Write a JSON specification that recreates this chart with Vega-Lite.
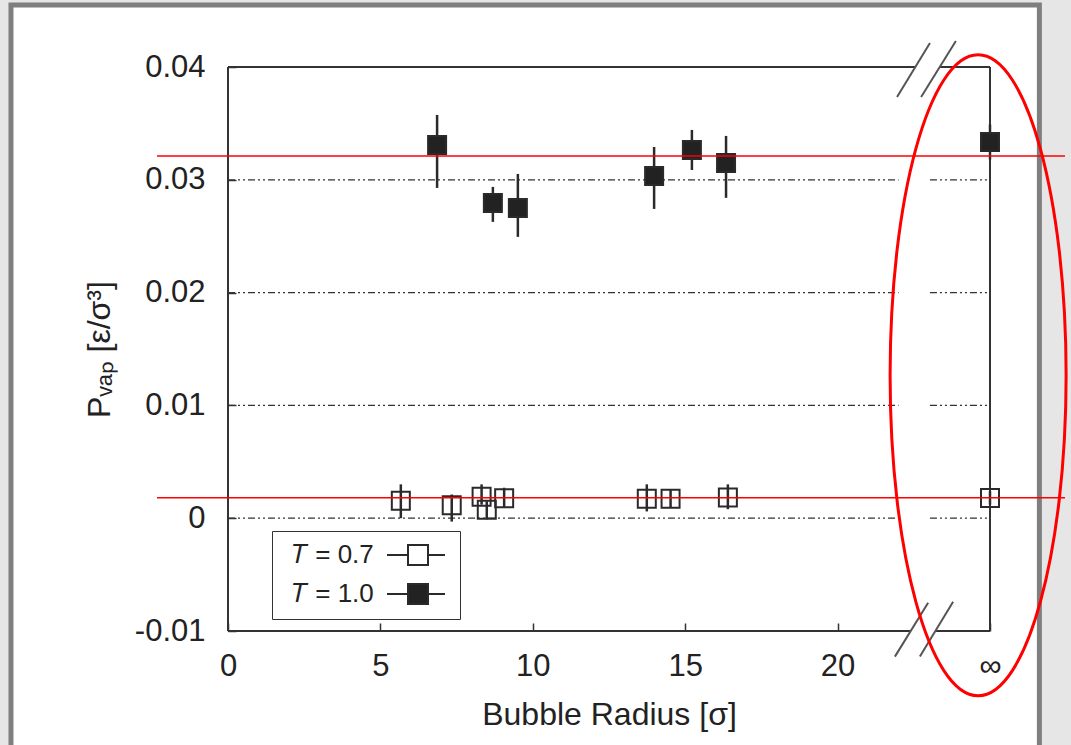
{
  "$schema": "https://vega.github.io/schema/vega-lite/v6.json",
  "width": 762,
  "height": 564,
  "autosize": {"type": "none"},
  "padding": {"left": 228, "top": 67, "right": 81, "bottom": 114},
  "background": "#e6e6e6",
  "config": {
    "view": {"stroke": null},
    "font": "Liberation Sans",
    "axis": {"grid": false, "domain": false, "ticks": true, "tickSize": -8, "tickColor": "#333333", "tickWidth": 1.5, "labelFontSize": 31, "labelColor": "#222222", "labelFlush": false, "labelOverlap": false, "titleFontSize": 32, "titleFontWeight": "normal", "titleColor": "#222222"}
  },
  "data": {"values": [{}]},
  "datasets": {
    "pts": [
      {"series": "𝑇 = 0.7", "r": 5.67, "p": 0.00155, "lo": 0.0, "hi": 0.0030},
      {"series": "𝑇 = 0.7", "r": 7.34, "p": 0.00115, "lo": -0.0003, "hi": 0.0021},
      {"series": "𝑇 = 0.7", "r": 8.32, "p": 0.0019, "lo": 0.0012, "hi": 0.0030},
      {"series": "𝑇 = 0.7", "r": 8.49, "p": 0.00075, "lo": -0.0001, "hi": 0.0015},
      {"series": "𝑇 = 0.7", "r": 9.06, "p": 0.00177, "lo": 0.0010, "hi": 0.0027},
      {"series": "𝑇 = 0.7", "r": 13.74, "p": 0.00173, "lo": 0.0006, "hi": 0.0030},
      {"series": "𝑇 = 0.7", "r": 14.52, "p": 0.00173, "lo": 0.0009, "hi": 0.0025},
      {"series": "𝑇 = 0.7", "r": 16.40, "p": 0.00184, "lo": 0.0008, "hi": 0.0030},
      {"series": "𝑇 = 0.7", "r": 25, "p": 0.00179, "lo": 0.0012, "hi": 0.0024},
      {"series": "𝑇 = 1.0", "r": 6.86, "p": 0.03309, "lo": 0.02928, "hi": 0.03575},
      {"series": "𝑇 = 1.0", "r": 8.69, "p": 0.02795, "lo": 0.02627, "hi": 0.02937},
      {"series": "𝑇 = 1.0", "r": 9.51, "p": 0.02751, "lo": 0.02494, "hi": 0.03052},
      {"series": "𝑇 = 1.0", "r": 13.98, "p": 0.03034, "lo": 0.02742, "hi": 0.03291},
      {"series": "𝑇 = 1.0", "r": 15.22, "p": 0.03265, "lo": 0.03087, "hi": 0.03442},
      {"series": "𝑇 = 1.0", "r": 16.34, "p": 0.03150, "lo": 0.02840, "hi": 0.03389},
      {"series": "𝑇 = 1.0", "r": 25, "p": 0.03336, "lo": 0.0318, "hi": 0.0349}
    ],
    "grid": [{"g": 0}, {"g": 0.01}, {"g": 0.02}, {"g": 0.03}],
    "refs": [{"level": 0.03212}, {"level": 0.00182}]
  },
  "layer": [
    {
      "mark": {"type": "rect", "fill": "white", "stroke": "#7f7f7f", "strokeWidth": 5},
      "encoding": {
        "x": {"datum": -7.12, "type": "quantitative", "scale": {"domain": [0, 25], "nice": false, "zero": false},
              "axis": {"zindex": 2, "values": [0, 5, 10, 15, 20, 25], "labelExpr": "datum.value == 25 ? '∞' : datum.label", "labelPadding": 28, "title": "Bubble Radius [σ]", "titlePadding": 18}},
        "x2": {"datum": 26.62},
        "y": {"datum": 0.0455, "type": "quantitative", "scale": {"domain": [-0.01, 0.04], "nice": false, "zero": false},
              "axis": {"zindex": 2, "values": [-0.01, 0, 0.01, 0.02, 0.03, 0.04], "labelExpr": "datum.value == 0 ? '0' : (datum.value < 0 ? '-0.01' : format(datum.value, '.2f'))", "labelPadding": 31, "title": "Pᵥₐₚ [ε/σ³]", "titlePadding": 18}},
        "y2": {"datum": -0.03}
      }
    },
    {
      "data": {"name": "grid"},
      "mark": {"type": "rule", "color": "#333333", "strokeWidth": 1.2, "strokeDash": [7, 3, 2, 3, 2, 3]},
      "encoding": {"y": {"field": "g", "type": "quantitative"}, "x": {"datum": 0}, "x2": {"datum": 22.0}}
    },
    {
      "data": {"name": "grid"},
      "mark": {"type": "rule", "color": "#333333", "strokeWidth": 1.2, "strokeDash": [7, 3, 2, 3, 2, 3]},
      "encoding": {"y": {"field": "g", "type": "quantitative"}, "x": {"datum": 23.03}, "x2": {"datum": 25}}
    },
    {"mark": {"type": "rule", "color": "#333333", "strokeWidth": 2}, "encoding": {"x": {"datum": 0}, "y": {"datum": -0.01}, "y2": {"datum": 0.04}}},
    {"mark": {"type": "rule", "color": "#333333", "strokeWidth": 2}, "encoding": {"x": {"datum": 25}, "y": {"datum": -0.01}, "y2": {"datum": 0.04}}},
    {"mark": {"type": "rule", "color": "#333333", "strokeWidth": 2}, "encoding": {"y": {"datum": 0.04}, "x": {"datum": 0}, "x2": {"datum": 22.54}}},
    {"mark": {"type": "rule", "color": "#333333", "strokeWidth": 2}, "encoding": {"y": {"datum": 0.04}, "x": {"datum": 23.36}, "x2": {"datum": 25}}},
    {"mark": {"type": "rule", "color": "#333333", "strokeWidth": 2}, "encoding": {"y": {"datum": -0.01}, "x": {"datum": 0}, "x2": {"datum": 22.4}}},
    {"mark": {"type": "rule", "color": "#333333", "strokeWidth": 2}, "encoding": {"y": {"datum": -0.01}, "x": {"datum": 23.23}, "x2": {"datum": 25}}},
    {"mark": {"type": "rule", "color": "#555555", "strokeWidth": 2}, "encoding": {"x": {"datum": 21.95}, "x2": {"datum": 23.03}, "y": {"datum": 0.03734}, "y2": {"datum": 0.04213}}},
    {"mark": {"type": "rule", "color": "#555555", "strokeWidth": 2}, "encoding": {"x": {"datum": 22.74}, "x2": {"datum": 23.88}, "y": {"datum": 0.03734}, "y2": {"datum": 0.04231}}},
    {"mark": {"type": "rule", "color": "#555555", "strokeWidth": 2}, "encoding": {"x": {"datum": 21.88}, "x2": {"datum": 22.97}, "y": {"datum": -0.01227}, "y2": {"datum": -0.00749}}},
    {"mark": {"type": "rule", "color": "#555555", "strokeWidth": 2}, "encoding": {"x": {"datum": 22.70}, "x2": {"datum": 23.79}, "y": {"datum": -0.01227}, "y2": {"datum": -0.0074}}},
    {
      "data": {"name": "pts"},
      "mark": {"type": "rule", "color": "#2a2a2a", "strokeWidth": 2.5},
      "encoding": {"x": {"field": "r", "type": "quantitative"}, "y": {"field": "lo", "type": "quantitative"}, "y2": {"field": "hi"}}
    },
    {
      "data": {"name": "pts"},
      "mark": {"type": "point", "shape": "square", "filled": true, "stroke": "#2a2a2a", "strokeWidth": 2, "size": 324, "opacity": 1},
      "encoding": {
        "x": {"field": "r", "type": "quantitative"},
        "y": {"field": "p", "type": "quantitative"},
        "fill": {"field": "series", "type": "nominal",
                 "scale": {"domain": ["𝑇 = 0.7", "𝑇 = 1.0"], "range": ["rgba(255,255,255,0)", "#222222"]},
                 "legend": {"title": null, "orient": "none", "legendX": 44, "legendY": 464, "padding": 11,
                            "strokeColor": "#333333", "fillColor": "white", "labelFontSize": 26, "labelColor": "#222222",
                            "labelOffset": -17, "symbolSize": 400, "symbolStrokeWidth": 2, "symbolStrokeColor": "#2a2a2a",
                            "rowPadding": 11, "symbolOpacity": 1,
                            "symbolType": "M11.2,-1H13.2V1H11.2Z M9.1,0H11.2 M13.2,0H14.9"}}
      }
    },
    {
      "data": {"name": "refs"},
      "mark": {"type": "rule", "color": "#ff0000", "strokeWidth": 1.5},
      "encoding": {"y": {"field": "level", "type": "quantitative"}, "x": {"datum": -2.33}, "x2": {"datum": 27.46}}
    },
    {
      "mark": {"type": "point", "shape": "M0,-1A0.2746,1,0,1,1,0,1A0.2746,1,0,1,1,0,-1Z", "filled": false, "stroke": "#ff0000", "strokeWidth": 3, "size": 410881, "opacity": 1},
      "encoding": {"x": {"datum": 24.61}, "y": {"datum": 0.01267}}
    }
  ]
}
